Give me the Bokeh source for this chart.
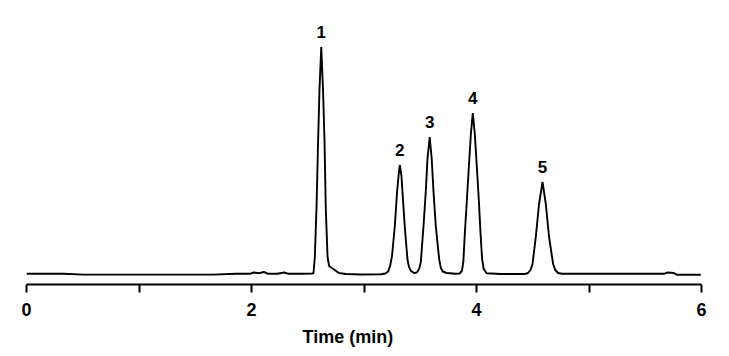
from bokeh.plotting import figure
from bokeh.models import Range1d, FixedTicker, Title, ColumnDataSource
from bokeh.core.properties import value
from bokeh.embed import file_html
from bokeh.resources import INLINE

# Chromatogram trace (time in min, signal in arbitrary units)
time_min = [
    0.00, 0.33, 0.51, 1.66, 1.86, 1.99, 2.02, 2.07, 2.11, 2.15, 2.23, 2.29, 2.33, 2.44, 2.54,
    2.551, 2.563, 2.578, 2.592, 2.604, 2.620, 2.636, 2.649, 2.660, 2.676, 2.690, 2.714, 2.740, 2.776, 2.838,
    2.97, 3.150,
    3.190, 3.215, 3.232, 3.249, 3.274, 3.294, 3.307, 3.318, 3.333, 3.342, 3.362, 3.386, 3.400, 3.418, 3.445, 3.470, 3.490,
    3.505, 3.529, 3.549, 3.564, 3.584, 3.602, 3.618, 3.638, 3.668, 3.683, 3.700, 3.735, 3.816,
    3.850, 3.870, 3.883, 3.896, 3.914, 3.932, 3.950, 3.967, 3.985, 4.003, 4.021, 4.036, 4.050, 4.064, 4.090,
    4.216, 4.430,
    4.458, 4.480, 4.498, 4.527, 4.556, 4.587, 4.616, 4.645, 4.681, 4.700, 4.725, 4.760,
    5.105, 5.665, 5.700, 5.753, 5.780, 5.993,
]
signal = [
    0.2, 0.2, -0.6, -0.6, 0.3, 0.3, 1.5, 0.8, 2.0, 0.2, 0.2, 1.5, 0.2, 0.3, 0.5,
    1, 17, 67, 133, 183, 227, 183, 133, 67, 17, 8, 6, 4, 1, 0,
    -0.5, -0.3,
    0.5, 2.5, 8, 18, 48, 82, 98, 109, 98, 82, 48, 15, 7, 3, 1, 1.5, 5,
    12, 48, 82, 115, 137, 115, 82, 48, 15, 6, 2.5, 1, 0.3,
    0.5, 3, 12, 40, 73, 107, 140, 161, 140, 107, 73, 40, 15, 5, 0.8,
    0, 0,
    1, 4, 10, 37, 70, 92, 70, 37, 10, 4, 1, 0.2,
    0.2, 0.2, 1.5, 1.0, -0.8, -0.8,
]

# Peak annotations
peak_labels = ["1", "2", "3", "4", "5"]
peak_times = [2.620, 3.318, 3.584, 3.967, 4.587]
peak_heights = [227, 109, 137, 161, 92]

# Axis ticks
tick_values = [0, 1, 2, 3, 4, 5, 6]
tick_labels = ["0", "", "2", "", "4", "", "6"]
x_title = "Time (min)"

FONT = "Liberation Sans"

p = figure(
    width=729, height=356,
    output_backend="svg", toolbar_location=None,
    x_range=Range1d(0, 6), y_range=Range1d(-10.5, 273.5),
    min_border_left=26, min_border_right=28,
    min_border_top=0, min_border_bottom=72,
    y_axis_location=None,
    background_fill_color="white", border_fill_color="white",
)
p.outline_line_color = None
p.grid.visible = False

p.line(time_min, signal, line_color="black", line_width=1.9)

src = ColumnDataSource(dict(x=peak_times, y=peak_heights, t=peak_labels))
p.text(x="x", y="y", text="t", source=src, y_offset=-15,
       text_align="center", text_baseline="alphabetic",
       text_font=value(FONT), text_font_style="bold", text_font_size="17px",
       text_color="black")

ax = p.xaxis[0]
ax.ticker = FixedTicker(ticks=tick_values)
ax.major_label_overrides = {v: l for v, l in zip(tick_values, tick_labels)}
ax.axis_line_width = 2
ax.axis_line_color = "black"
ax.major_tick_line_width = 2
ax.major_tick_line_color = "black"
ax.major_tick_out = 8
ax.major_tick_in = 0
ax.minor_tick_line_color = None
ax.major_label_standoff = 10
ax.major_label_text_font = FONT
ax.major_label_text_font_style = "bold"
ax.major_label_text_font_size = "18px"
ax.major_label_text_color = "black"

# Axis title, placed where it sits in the original (left of the axis centre)
t = Title(text=x_title, align="left", offset=276, standoff=13,
          text_font=FONT, text_font_style="bold", text_font_size="18px",
          text_color="black")
p.add_layout(t, "below")

open("out.html", "w").write(file_html(p, INLINE))
